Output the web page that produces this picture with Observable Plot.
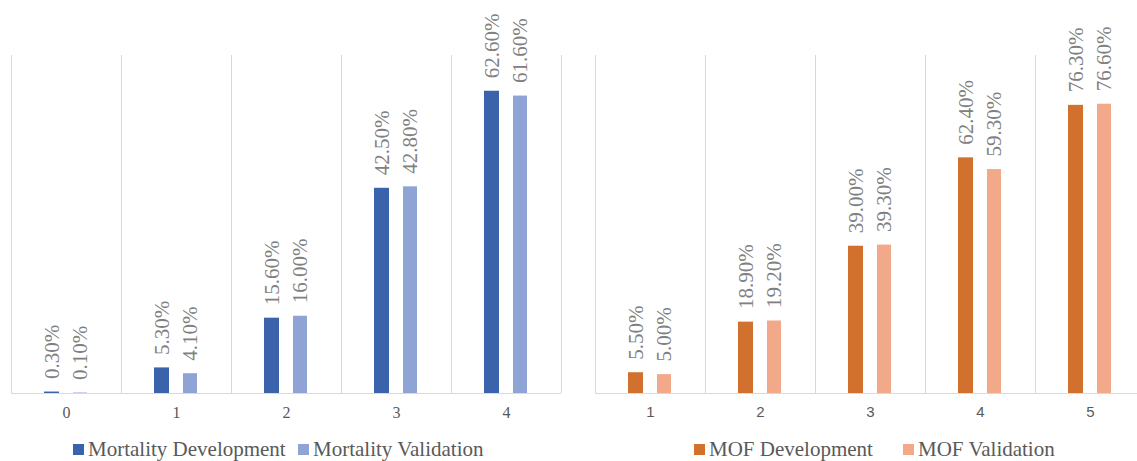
<!DOCTYPE html>
<html><head><meta charset="utf-8">
<script src="https://cdn.jsdelivr.net/npm/d3@7"></script>
<script src="https://cdn.jsdelivr.net/npm/@observablehq/plot@0.6"></script>
<style>
body{margin:0;background:#fff;}
#wrap{position:relative;width:1137px;height:461px;overflow:hidden;background:#fff;}
.chart{position:absolute;top:0;}
#wrap svg text{font-family:"Liberation Serif",serif !important;}
#wrap svg.mof g[aria-label="x-axis tick label"] text{font-family:"Liberation Sans",sans-serif !important;}
.lg{position:absolute;font-family:"Liberation Serif",serif;font-size:21px;line-height:21px;color:#595959;white-space:nowrap;}
.sw{position:absolute;width:11px;height:11px;}
</style></head><body>
<div id="wrap"></div>
<script>
// ---- data ----
const mortalityScores = ["0", "1", "2", "3", "4"];
const mortalityDevelopment = [0.3, 5.3, 15.6, 42.5, 62.6];
const mortalityValidation = [0.1, 4.1, 16.0, 42.8, 61.6];
const mofScores = ["1", "2", "3", "4", "5"];
const mofDevelopment = [5.5, 18.9, 39.0, 62.4, 76.3];
const mofValidation = [5.0, 19.2, 39.3, 59.3, 76.6];
const mortalitySeries = ["Mortality Development", "Mortality Validation"];
const mofSeries = ["MOF Development", "MOF Validation"];

function chart({cats, dev, val, devColor, valColor, yMax, range, width, tickSize, tickFont}) {
  const devRows = cats.map((c, i) => ({cat: c, v: dev[i]}));
  const valRows = cats.map((c, i) => ({cat: c, v: val[i]}));
  const bw = (range[1] - range[0]) / cats.length;
  const lbl = {x: "cat", y: "v", text: d => d.v.toFixed(2) + "%", rotate: -90, textAnchor: "start",
    lineAnchor: "middle", dy: -13, fontSize: 21, fontFamily: "Liberation Serif", fill: "#808080"};
  return Plot.plot({
    width, height: 425, marginTop: 55, marginBottom: 32, marginLeft: range[0], marginRight: width - range[1],
    style: {background: "transparent", overflow: "visible", fontFamily: "Liberation Serif"},
    x: {type: "band", domain: cats, range, padding: 0, label: null},
    y: {domain: [0, yMax], axis: null},
    marks: [
      Plot.ruleX(cats, {x: d => d, dx: -bw / 2, stroke: "#d9d9d9", strokeWidth: 1}),
      Plot.ruleX([cats[cats.length - 1]], {x: d => d, dx: bw / 2, stroke: "#d9d9d9", strokeWidth: 1}),
      Plot.barY(devRows, {x: "cat", y: "v", fill: devColor, insetLeft: 33, insetRight: 62}),
      Plot.barY(valRows, {x: "cat", y: "v", fill: valColor, insetLeft: 62, insetRight: 34}),
      Plot.ruleY([0], {stroke: "#d9d9d9", strokeWidth: 1}),
      Plot.text(devRows, {...lbl, dx: -14.5}),
      Plot.text(valRows, {...lbl, dx: 14}),
      Plot.axisX({tickSize: 0, tickPadding: 13, fontSize: tickSize, fontFamily: tickFont, color: "#595959", label: null})
    ]
  });
}

const wrap = document.getElementById("wrap");
const left = chart({cats: mortalityScores, dev: mortalityDevelopment, val: mortalityValidation,
  devColor: "#3b63ab", valColor: "#8fa4d5", yMax: 70, range: [11, 561], width: 578, tickSize: 16,
  tickFont: "Liberation Serif"});
left.classList.add("chart"); left.style.left = "0px";
wrap.appendChild(left);

const right = chart({cats: mofScores, dev: mofDevelopment, val: mofValidation,
  devColor: "#d2702d", valColor: "#f2a98a", yMax: 89.5, range: [17, 567], width: 559, tickSize: 15,
  tickFont: "Liberation Sans"});
right.classList.add("chart"); right.classList.add("mof"); right.style.left = "578px";
wrap.appendChild(right);

function legend(items, colors, lefts) {
  items.forEach((name, i) => {
    const sw = document.createElement("div");
    sw.className = "sw"; sw.style.background = colors[i];
    sw.style.left = lefts[i] + "px"; sw.style.top = "444px";
    wrap.appendChild(sw);
    const t = document.createElement("div");
    t.className = "lg"; t.textContent = name;
    t.style.left = (lefts[i] + 15) + "px"; t.style.top = "439px";
    wrap.appendChild(t);
  });
}
legend(mortalitySeries, ["#3b63ab", "#8fa4d5"], [73, 298]);
legend(mofSeries, ["#d2702d", "#f2a98a"], [694, 903]);
</script>
</body></html>
